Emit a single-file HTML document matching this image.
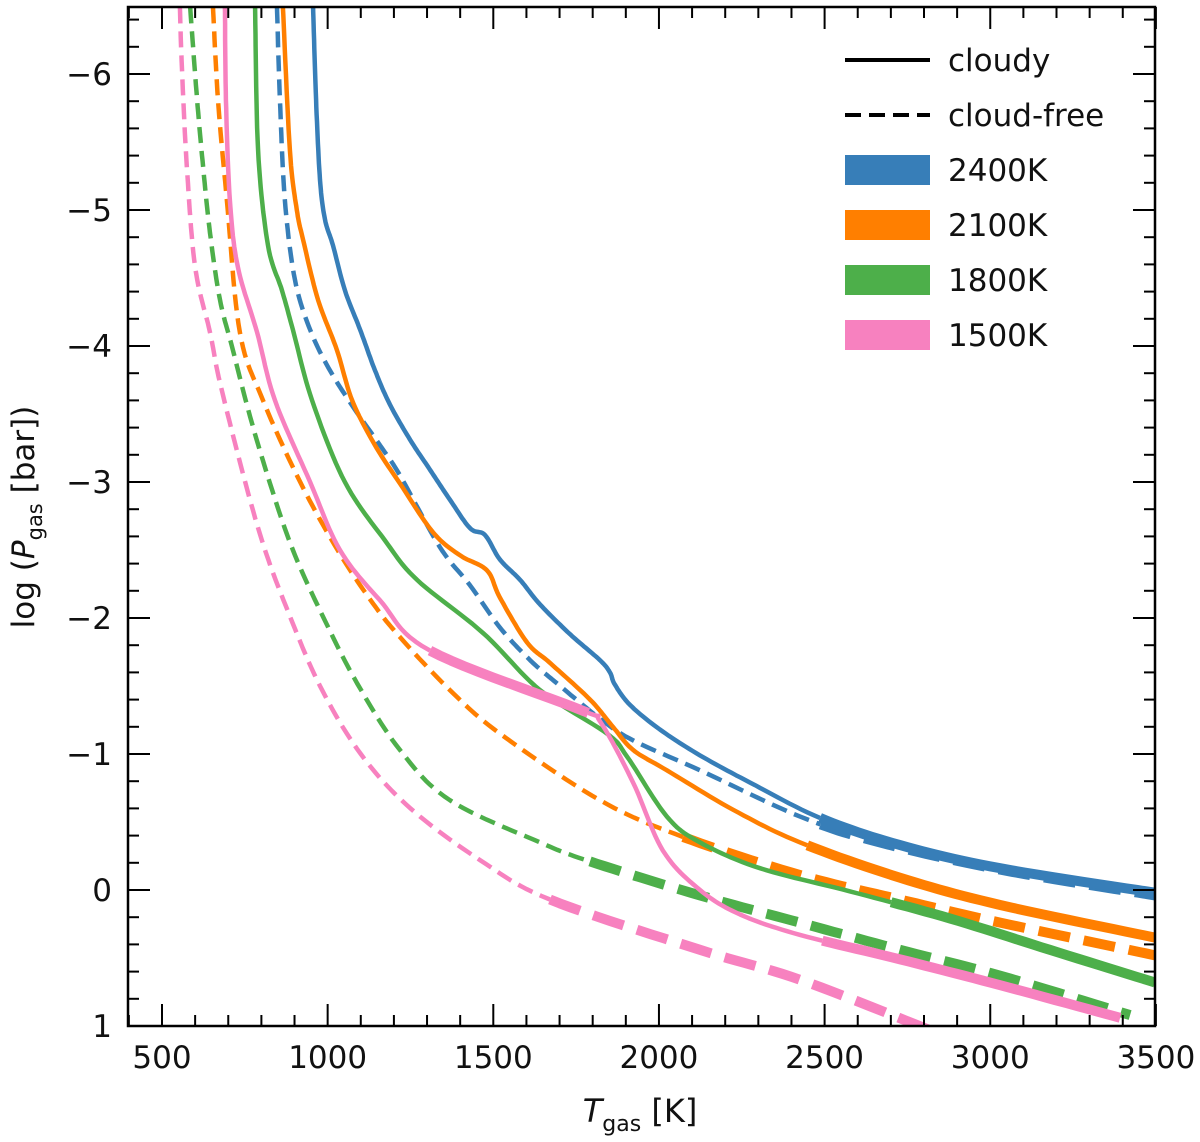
<!DOCTYPE html>
<html><head><meta charset="utf-8"><style>
body{margin:0;background:#fff}
svg text{font-family:"DejaVu Sans","Liberation Sans",sans-serif;fill:#111}
</style></head><body>
<svg id="chart" width="1200" height="1137" viewBox="0 0 1200 1137" xmlns="http://www.w3.org/2000/svg">
<defs><clipPath id="clip"><rect x="128" y="7" width="1027" height="1019"/></clipPath></defs>
<g id="series" clip-path="url(#clip)"></g>
<rect x="128" y="7" width="1027" height="1019" fill="none" stroke="#000" stroke-width="2.5"/>
<g id="axes"></g>
<text x="640" y="1122" font-size="32" text-anchor="middle"><tspan font-style="italic">T</tspan><tspan font-size="22" dy="9">gas</tspan><tspan dy="-9"> [K]</tspan></text>
<text transform="translate(34,517) rotate(-90)" font-size="31" text-anchor="middle">log (<tspan font-style="italic">P</tspan><tspan font-size="21" dy="8">gas</tspan><tspan dy="-8"> [bar])</tspan></text>
<g>
<line x1="845" y1="60" x2="930" y2="60" stroke="#000" stroke-width="4"/>
<text x="948" y="71" font-size="31">cloudy</text>
<line x1="845" y1="115" x2="930" y2="115" stroke="#000" stroke-width="4" stroke-dasharray="16,8"/>
<text x="948" y="126" font-size="31">cloud-free</text>
<rect x="845" y="155" width="85" height="30" fill="#377eb8"/>
<text x="948" y="181" font-size="31">2400K</text>
<rect x="845" y="210" width="85" height="30" fill="#ff7f00"/>
<text x="948" y="236" font-size="31">2100K</text>
<rect x="845" y="265" width="85" height="30" fill="#4daf4a"/>
<text x="948" y="291" font-size="31">1800K</text>
<rect x="845" y="320" width="85" height="30" fill="#f781bf"/>
<text x="948" y="346" font-size="31">1500K</text>
</g>
</svg>
<script>
const xTicks=[500,1000,1500,2000,2500,3000,3500];
const yTicks=[-6,-5,-4,-3,-2,-1,0,1];
const yTickLabels=["\u22126","\u22125","\u22124","\u22123","\u22122","\u22121","0","1"];
const blueSolidT=[956,965,977,992,1016,1052,1098,1143,1188,1249,1309,1369,1430,1475,1520,1581,1641,1732,1822,1852,1867,1913,2003,2124,2275,2486,2728,3030,3497];
const blueSolidP=[-6.49,-5.81,-5.22,-4.93,-4.74,-4.41,-4.12,-3.82,-3.57,-3.31,-3.09,-2.87,-2.66,-2.61,-2.43,-2.28,-2.10,-1.88,-1.69,-1.60,-1.51,-1.36,-1.18,-0.99,-0.79,-0.53,-0.33,-0.16,0.02];
const blueDashT=[847,856,871,901,947,1007,1083,1158,1218,1339,1430,1520,1611,1692,1822,1922,2124,2426,2667,3030,3497];
const blueDashP=[-6.49,-5.81,-5.07,-4.49,-4.12,-3.82,-3.53,-3.27,-3.05,-2.52,-2.24,-1.93,-1.69,-1.52,-1.26,-1.10,-0.88,-0.54,-0.35,-0.15,0.04];
const orangeSolidT=[865,886,907,926,971,1028,1074,1143,1218,1318,1400,1481,1520,1602,1671,1792,1861,1922,2024,2224,2426,2728,3030,3497];
const orangeSolidP=[-6.49,-5.44,-5.00,-4.78,-4.34,-3.97,-3.60,-3.27,-2.99,-2.63,-2.46,-2.35,-2.15,-1.82,-1.67,-1.40,-1.20,-1.03,-0.88,-0.59,-0.35,-0.09,0.11,0.35];
const orangeDashT=[654,669,696,735,805,917,1030,1130,1218,1369,1520,1822,2073,2426,2728,3030,3497];
const orangeDashP=[-6.49,-5.81,-5.07,-4.10,-3.60,-3.00,-2.50,-2.13,-1.86,-1.47,-1.15,-0.66,-0.39,-0.11,0.07,0.24,0.48];
const greenSolidT=[781,790,820,862,895,953,1052,1173,1270,1469,1641,1843,1904,2024,2124,2305,2577,2879,3180,3497];
const greenSolidP=[-6.49,-5.44,-4.74,-4.41,-4.12,-3.60,-3.00,-2.57,-2.28,-1.89,-1.47,-1.15,-0.98,-0.54,-0.35,-0.16,0.01,0.21,0.44,0.68];
const greenDashT=[585,606,624,645,675,714,766,826,895,986,1089,1218,1369,1641,1792,2124,2426,2728,3030,3422];
const greenDashP=[-6.49,-5.81,-5.32,-4.83,-4.34,-3.97,-3.48,-2.99,-2.50,-2.01,-1.52,-1.03,-0.66,-0.35,-0.21,0.04,0.24,0.44,0.63,0.92];
const pinkSolidT=[690,693,705,729,787,841,947,1037,1158,1309,1768,1822,1922,2012,2124,2245,2426,2728,3030,3392];
const pinkSolidP=[-6.49,-5.81,-5.07,-4.58,-4.10,-3.60,-3.00,-2.50,-2.13,-1.76,-1.32,-1.24,-0.79,-0.29,0.00,0.18,0.33,0.51,0.70,0.94];
const pinkDashT=[554,560,575,600,645,675,751,811,880,977,1100,1250,1460,1671,2124,2426,2818];
const pinkDashP=[-6.49,-6.05,-5.32,-4.58,-4.10,-3.73,-3.00,-2.50,-2.05,-1.50,-1.00,-0.60,-0.22,0.07,0.44,0.66,1.03];
const blueSolidThick=[[2480,3600]];
const blueDashThick=[[2470,3600]];
const orangeSolidThick=[[2430,3600]];
const orangeDashThick=[[2060,3600]];
const greenSolidThick=[[2680,3600]];
const greenDashThick=[[1790,3600]];
const pinkSolidThick=[[1309,1768],[2480,3600]];
const pinkDashThick=[[1671,3600]];

const NS="http://www.w3.org/2000/svg";
const xs=T=>162+(T-500)*0.3313;
const ys=P=>890+P*136;
const axes=document.getElementById('axes');
const series=document.getElementById('series');
function mk(tag,attrs,parent){const e=document.createElementNS(NS,tag);for(const k in attrs)e.setAttribute(k,attrs[k]);parent.appendChild(e);return e;}

for(let T=400;T<=3500;T+=100){
  const major=T%500===0, L=major?22:11, x=xs(T);
  const t1=mk('line',{x1:x,y1:1026,x2:x,y2:1026-L,stroke:'#000','stroke-width':2},axes);
  
  
  const t2=mk('line',{x1:x,y1:7,x2:x,y2:7+L,stroke:'#000','stroke-width':2},axes);
  
  
}
xTicks.forEach(T=>{
  const t=mk('text',{x:xs(T),y:1068,'font-size':31,'text-anchor':'middle'},axes);
  t.textContent=T;
  
  
});
for(let i=-32;i<=5;i++){
  const P=i*0.2, major=i%5===0, L=major?22:11, y=ys(P);
  if(y<7||y>1026)continue;
  const t1=mk('line',{x1:128,y1:y,x2:128+L,y2:y,stroke:'#000','stroke-width':2},axes);
  
  
  const t2=mk('line',{x1:1155,y1:y,x2:1155-L,y2:y,stroke:'#000','stroke-width':2},axes);
  
  
}
yTicks.forEach((P,i)=>{
  const t=mk('text',{x:112,y:ys(P)+11,'font-size':31,'text-anchor':'end'},axes);
  t.textContent=yTickLabels[i];
  
  
});

function smooth(Ts,Ps){
  const p=Ts.map((T,i)=>[xs(T),ys(Ps[i]),T]);
  const out=[];
  for(let i=0;i<p.length-1;i++){
    const p0=p[Math.max(0,i-1)],p1=p[i],p2=p[i+1],p3=p[Math.min(p.length-1,i+2)];
    const N=12;
    for(let s=0;s<N;s++){
      const t=s/N,t2=t*t,t3=t2*t;
      const f=(a,b,c,d)=>0.5*((2*b)+(-a+c)*t+(2*a-5*b+4*c-d)*t2+(-a+3*b-3*c+d)*t3);
      out.push([f(p0[0],p1[0],p2[0],p3[0]),f(p0[1],p1[1],p2[1],p3[1]),p1[2]+(p2[2]-p1[2])*t]);
    }
  }
  const l=p[p.length-1];out.push([l[0],l[1],l[2]]);
  return out;
}
function draw(Ts,Ps,thick,color,dashed,name){
  const pts=smooth(Ts,Ps);
  const isHeavy=T=>thick.some(r=>T>=r[0]&&T<=r[1]);
  let runs=[],cur=null;
  pts.forEach(pt=>{
    const h=isHeavy(pt[2]);
    if(!cur||cur.h!==h){if(cur)cur.pts.push(pt);cur={h:h,pts:cur?[cur.pts[cur.pts.length-1]]:[]};runs.push(cur);}
    cur.pts.push(pt);
  });
  runs.forEach(r=>{
    if(r.pts.length<2)return;
    const d='M'+r.pts.map(q=>q[0].toFixed(1)+','+q[1].toFixed(1)).join('L');
    const attrs={d:d,fill:'none',stroke:color,'stroke-width':r.h?10:4.5,'stroke-linejoin':'round'};
    if(dashed)attrs['stroke-dasharray']=r.h?'32,14':'16,8';
    const el=mk('path',attrs,series);
    
    
  });
}
draw(pinkDashT,pinkDashP,pinkDashThick,'#f781bf',true,'line-1500k-cloudfree');
draw(greenDashT,greenDashP,greenDashThick,'#4daf4a',true,'line-1800k-cloudfree');
draw(orangeDashT,orangeDashP,orangeDashThick,'#ff7f00',true,'line-2100k-cloudfree');
draw(blueDashT,blueDashP,blueDashThick,'#377eb8',true,'line-2400k-cloudfree');
draw(greenSolidT,greenSolidP,greenSolidThick,'#4daf4a',false,'line-1800k-cloudy');
draw(orangeSolidT,orangeSolidP,orangeSolidThick,'#ff7f00',false,'line-2100k-cloudy');
draw(blueSolidT,blueSolidP,blueSolidThick,'#377eb8',false,'line-2400k-cloudy');
draw(pinkSolidT,pinkSolidP,pinkSolidThick,'#f781bf',false,'line-1500k-cloudy');
</script>
</body></html>
